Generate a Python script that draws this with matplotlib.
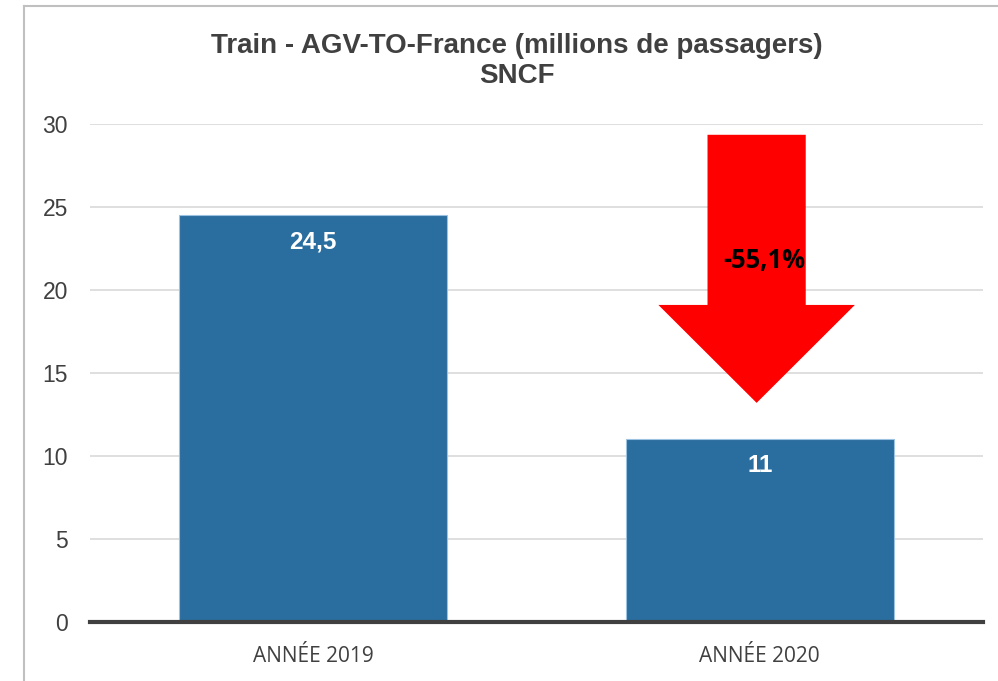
import matplotlib
matplotlib.use("Agg")
import matplotlib.pyplot as plt
from matplotlib.lines import Line2D
from matplotlib.patches import Polygon

categories = ["ANNÉE 2019", "ANNÉE 2020"]
values = [24.5, 11]
value_labels = ["24,5", "11"]
change_label = "-55,1%"
title = "Train - AGV-TO-France (millions de passagers)\nSNCF"
yticks = [0, 5, 10, 15, 20, 25, 30]

W, H = 998, 681
fig = plt.figure(figsize=(W / 100, H / 100), dpi=100)
ax = fig.add_axes([90 / W, 59 / H, (983 - 90) / W, (622 - 124) / H])

x = list(range(len(categories)))
bars = ax.bar(x, values, width=0.6, color="#2a6d9f", edgecolor="#9cc2e2",
              linewidth=0.8, zorder=2)
ax.set_xlim(-0.5, len(categories) - 0.5)
ax.set_ylim(0, 30)
ax.set_yticks(yticks)
ax.set_yticklabels([str(t) for t in yticks], family="Liberation Sans",
                   fontsize=16.5, color="#404040")
ax.set_xticks(x)
ax.set_xticklabels(categories, family="Open Sans", fontsize=15, color="#404040")
ax.tick_params(axis="y", length=0, pad=16)
ax.tick_params(axis="x", length=0, pad=17)
ax.grid(axis="y", color="#d9d9d9", linewidth=1.2, zorder=0)
ax.set_axisbelow(True)
for s in ["left", "right", "top"]:
    ax.spines[s].set_visible(False)
ax.spines["bottom"].set_color("#404040")
ax.spines["bottom"].set_linewidth(3)
ax.spines["bottom"].set_zorder(3)

for b, lab in zip(bars, value_labels):
    ax.text(b.get_x() + b.get_width() / 2, b.get_height() - 1.6, lab,
            ha="center", va="center", color="white", fontsize=17.5,
            fontweight="bold", family="Liberation Sans", zorder=4)

# red down arrow over the 2020 bar
cx = 0.993
shaft_w, head_w = 0.11, 0.22
top, head_base, tip = 29.35, 19.1, 13.2
arrow = Polygon([(cx - shaft_w, top), (cx + shaft_w, top), (cx + shaft_w, head_base),
                 (cx + head_w, head_base), (cx, tip), (cx - head_w, head_base),
                 (cx - shaft_w, head_base)], closed=True, facecolor="#ff0000",
                edgecolor="none", zorder=5)
ax.add_patch(arrow)
ax.text(cx + 0.017, 21.8, change_label, ha="center", va="center", color="black",
        fontsize=18.4, fontweight="bold", family="Open Sans", zorder=6)

fig.text(517 / W, 1 - 61 / H, title, ha="center", va="center",
         fontsize=20, fontweight="bold", family="Liberation Sans",
         color="#404040", linespacing=1.22)

# outer frame lines
fig.add_artist(Line2D([24 / W, 24 / W], [0, 1 - 6 / H], color="#c0c0c0", linewidth=1.5,
                      transform=fig.transFigure))
fig.add_artist(Line2D([24 / W, 1], [1 - 6 / H, 1 - 6 / H], color="#c0c0c0", linewidth=1.5,
                      transform=fig.transFigure))

fig.savefig("out.png", dpi=100)
